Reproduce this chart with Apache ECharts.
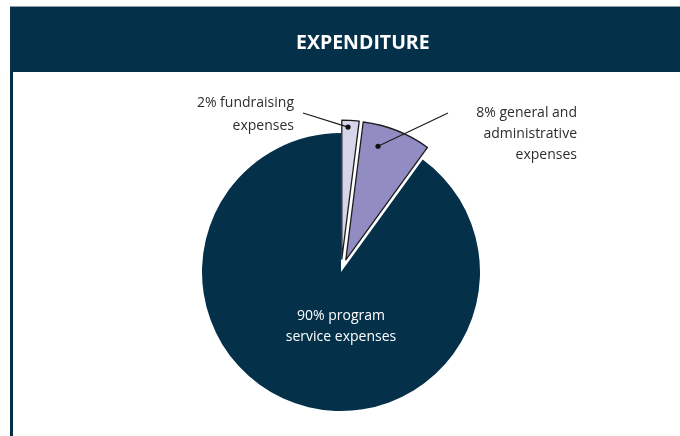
<!DOCTYPE html>
<html>
<head>
<meta charset="utf-8">
<script src="https://cdn.jsdelivr.net/npm/echarts@6/dist/echarts.min.js"></script>
<style>
html,body{margin:0;padding:0;background:#fff;}
#c{width:680px;height:436px;}
</style>
</head>
<body>
<div id="c"></div>
<script>
// ---- data ----
const titleText = 'EXPENDITURE';
const categories = ['fundraising', 'general and administrative', 'program service'];
const labelTexts = ['{v}% fundraising\nexpenses', '{v}% general and\nadministrative\nexpenses', '{v}% program\nservice expenses'];
const values = [2, 8, 90];
const exploded = [true, true, false];

// ---- style / layout ----
const NAVY = '#04304a';
const colors = ['#d6d5ea', '#918dc3', NAVY];
const CX = 341, CY = 272, R = 139, OFF = 13;
const FONT = '"Open Sans", "Noto Sans", sans-serif';
const labelPos = [
  {x: 294, y: 115, align: 'right', lh: 23},
  {x: 577, y: 134, align: 'right', lh: 21},
  {x: 341, y: 327, align: 'center', lh: 21}
];
const leaderEnd = [[303, 113], [448, 113]];
const dotPlace = [{a: 0.375, r: 0.95}, {a: 0.30, r: 0.85}];

const total = values.reduce((s, v) => s + v, 0);
function slicePoint(i, aFrac, rFrac) {
  let start = 0;
  for (let k = 0; k < i; k++) start += values[k];
  const s = start / total * 360, span = values[i] / total * 360;
  const mid = (s + span / 2) * Math.PI / 180;
  const ang = (s + aFrac * span) * Math.PI / 180;
  const off = exploded[i] ? OFF : 0;
  return [CX + off * Math.sin(mid) + rFrac * R * Math.sin(ang),
          CY - off * Math.cos(mid) - rFrac * R * Math.cos(ang)];
}

const pieData = values.map((v, i) => ({
  name: categories[i],
  value: v,
  selected: exploded[i],
  itemStyle: {
    color: colors[i],
    borderColor: exploded[i] ? '#1c1c1c' : NAVY,
    borderWidth: exploded[i] ? 1.3 : 0
  },
  label: {
    show: i === 2,
    formatter: labelTexts[i].replace('{v}', v),
    color: '#ffffff',
    lineHeight: labelPos[i].lh,
    align: 'center',
    position: 'inside'
  }
}));

const graphics = [
  {type: 'rect', shape: {x: 10, y: 6, width: 670, height: 1}, style: {fill: '#8d9ba6'}, z: 1},
  {type: 'rect', shape: {x: 10, y: 7, width: 670, height: 65}, style: {fill: NAVY}, z: 1},
  {type: 'rect', shape: {x: 10, y: 72, width: 3, height: 364}, style: {fill: NAVY}, z: 1}
];
for (let i = 0; i < 2; i++) {
  const p = slicePoint(i, dotPlace[i].a, dotPlace[i].r);
  graphics.push({type: 'line', shape: {x1: leaderEnd[i][0], y1: leaderEnd[i][1], x2: p[0], y2: p[1]},
    style: {stroke: '#1a1a1a', lineWidth: 1.1}, z: 100});
  graphics.push({type: 'circle', shape: {cx: p[0], cy: p[1], r: 2.6}, style: {fill: '#111'}, z: 101});
  graphics.push({type: 'text', z: 100, style: {
    text: labelTexts[i].replace('{v}', values[i]),
    x: labelPos[i].x, y: labelPos[i].y,
    textAlign: 'right', textVerticalAlign: 'middle',
    fontFamily: FONT, fontSize: 14, lineHeight: labelPos[i].lh,
    fill: '#2e2e2e'
  }});
}

const chart = echarts.init(document.getElementById('c'), null, {renderer: 'canvas'});
chart.setOption({
  animation: false,
  backgroundColor: '#ffffff',
  title: {
    text: titleText,
    left: 296,
    top: 33,
    padding: 0,
    textStyle: {color: '#ffffff', fontFamily: FONT, fontWeight: 'bold', fontSize: 19.5}
  },
  graphic: graphics,
  series: [{
    type: 'pie',
    center: [CX, CY],
    radius: [0, R],
    startAngle: 90,
    clockwise: true,
    selectedMode: 'multiple',
    selectedOffset: OFF,
    silent: true,
    emphasis: {disabled: true},
    label: {
      show: true,
      fontFamily: FONT,
      fontSize: 14
    },
    labelLine: {show: false},
    labelLayout: function (params) {
      const lp = labelPos[params.dataIndex];
      return {x: lp.x, y: lp.y, align: lp.align, verticalAlign: 'middle'};
    },
    data: pieData
  }]
});
</script>
</body>
</html>
